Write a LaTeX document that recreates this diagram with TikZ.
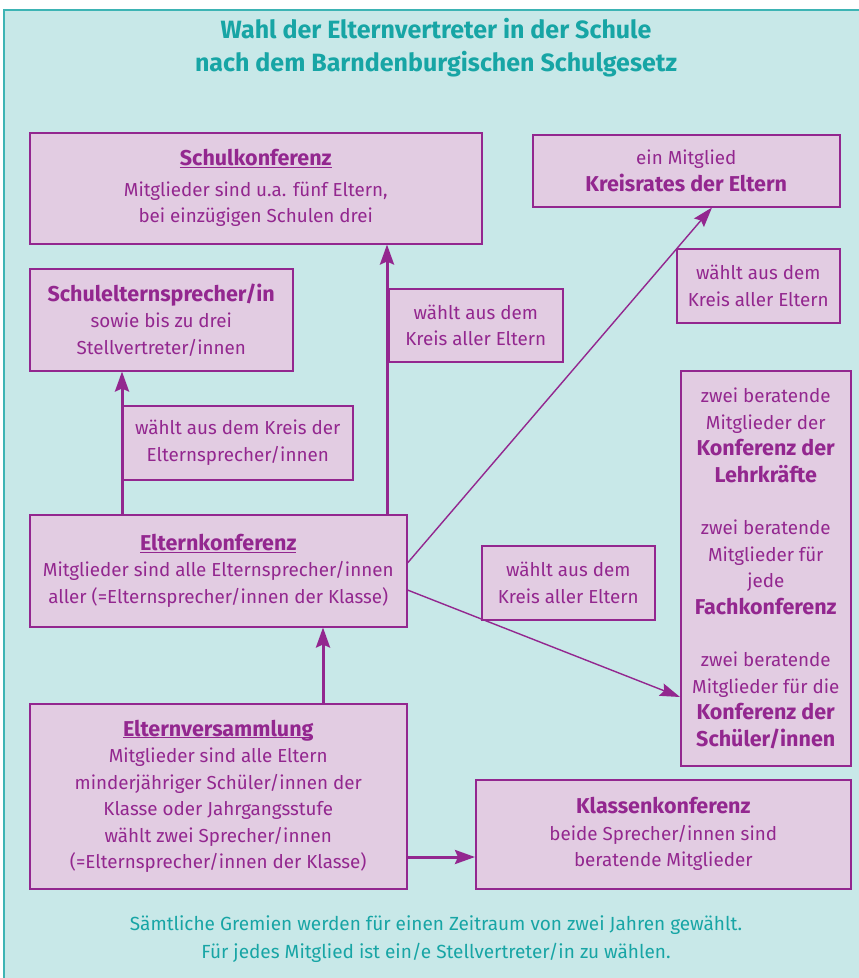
\documentclass[tikz,border=0pt]{standalone}
\usepackage{fontspec}
\setmainfont{Fira Sans}
\usetikzlibrary{arrows.meta,calc}
\definecolor{bg}{HTML}{C8E8E8}
\definecolor{frame}{HTML}{3DB4B4}
\definecolor{teal}{HTML}{17A5A5}
\definecolor{pp}{HTML}{93278F}
\definecolor{bxfill}{HTML}{E2CCE2}
\newcommand\hd[1]{{\fontsize{21.5}{26}\selectfont\bfseries #1}}
\newcommand\hdu[1]{{\fontsize{21.5}{26}\selectfont\bfseries\underline{\raisebox{0pt}[\height][0pt]{#1}}}}
\tikzset{
  box/.style={draw=pp, line width=1.5pt, fill=bxfill, text=pp, align=center, inner sep=0pt,
    anchor=north west, font=\fontsize{18.8}{26.5}\selectfont},
  thickarr/.style={draw=pp, line width=3pt, -{Stealth[length=20pt,width=14pt,inset=3pt]}},
  thinarr/.style={draw=pp, line width=1.4pt, -{Stealth[length=20pt,width=13pt,inset=3pt]}},
}
\begin{document}
\begin{tikzpicture}[x=1pt,y=-1pt]
\useasboundingbox (0,0) rectangle (859,978);
\fill[white] (0,0) rectangle (859,978);
\draw[frame, fill=bg, line width=1.5pt] (4,10) rectangle (870,990);

\node[text=teal, align=center, font=\fontsize{25}{33}\selectfont\bfseries] (title) at (436,48)
  {Wahl der Elternvertreter in der Schule\\nach dem Barndenburgischen Schulgesetz};

\node[box, minimum width=452, minimum height=111] (sk) at (29,132)
  {\hdu{Schulkonferenz}\\[4pt]Mitglieder sind u.a. fünf Eltern,\\bei einzügigen Schulen drei};
\node[box, minimum width=307, minimum height=72] (kr) at (532,134)
  {ein Mitglied\\\hd{Kreisrates der Eltern}};
\node[box, minimum width=163, minimum height=74] (l1) at (676,248)
  {wählt aus dem\\Kreis aller Eltern};
\node[box, minimum width=263, minimum height=102] (sesp) at (29,268)
  {\hd{Schulelternsprecher/in}\\sowie bis zu drei\\Stellvertreter/innen};
\node[box, minimum width=174, minimum height=73] (l2) at (388,288)
  {wählt aus dem\\Kreis aller Eltern};
\node[box, minimum width=230, minimum height=74] (l3) at (122,405)
  {wählt aus dem Kreis der\\Elternsprecher/innen};
\node[box, minimum width=377, minimum height=112] (ek) at (29,514)
  {\hdu{Elternkonferenz}\\Mitglieder sind alle Elternsprecher/innen\\aller (=Elternsprecher/innen der Klasse)};
\node[box, minimum width=173, minimum height=74] (l4) at (481,545)
  {wählt aus dem\\Kreis aller Eltern};
\node[box, minimum width=170, minimum height=395] (rb) at (680,370)
  {zwei beratende\\Mitglieder der\\\hd{Konferenz der}\\\hd{Lehrkräfte}\\[26pt]
   zwei beratende\\Mitglieder für\\jede\\\hd{Fachkonferenz}\\[26pt]
   zwei beratende\\Mitglieder für die\\\hd{Konferenz der}\\\hd{Schüler/innen}};
\node[box, minimum width=377, minimum height=185] (ev) at (29,703)
  {\hdu{Elternversammlung}\\Mitglieder sind alle Eltern\\minderjähriger Schüler/innen der\\Klasse oder Jahrgangsstufe\\wählt zwei Sprecher/innen\\(=Elternsprecher/innen der Klasse)};
\node[box, minimum width=375, minimum height=109] (kk) at (475,779)
  {\hd{Klassenkonferenz}\\beide Sprecher/innen sind\\beratende Mitglieder};

\node[text=teal, align=center, font=\fontsize{19}{28}\selectfont] (foot) at (436,939)
  {Sämtliche Gremien werden für einen Zeitraum von zwei Jahren gewählt.\\Für jedes Mitglied ist ein/e Stellvertreter/in zu wählen.};

\coordinate (c1) at (122,0);
\coordinate (c2) at (387,0);
\coordinate (c3) at (323,0);
\coordinate (c4) at (0,857);
\coordinate (k1) at (712,0);
\coordinate (e1) at (0,563);
\coordinate (e2) at (0,590);
\coordinate (r1) at (0,697);

\draw[thickarr] (ek.north -| c1) -- (sesp.south -| c1);
\draw[thickarr] (ek.north -| c2) -- (sk.south -| c2);
\draw[thickarr] (ev.north -| c3) -- (ek.south -| c3);
\draw[thickarr] (ev.east |- c4) -- (kk.west |- c4);
\draw[thinarr] (ek.east |- e1) -- (kr.south -| k1);
\draw[thinarr] (ek.east |- e2) -- (rb.west |- r1);
\end{tikzpicture}
\end{document}
